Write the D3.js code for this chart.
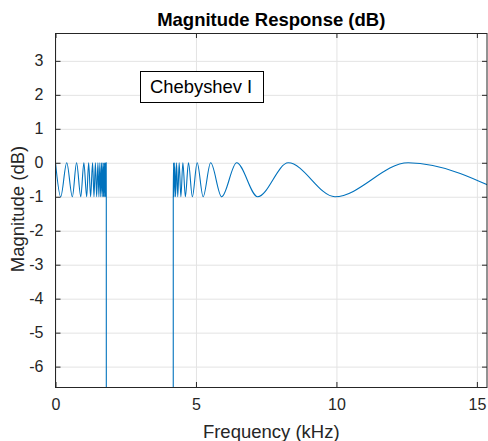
<!DOCTYPE html>
<html>
<head>
<meta charset="utf-8">
<script src="https://cdn.jsdelivr.net/npm/d3@7"></script>
<style>
  body { margin: 0; background: #fff; }
  svg { display: block; font-family: "Liberation Sans", Arial, Helvetica, sans-serif; }
</style>
</head>
<body>
<svg id="chart" width="488" height="441"></svg>
<script>
// tick values
var freqTicks = [0, 5, 10, 15];
var magTicks = [3, 2, 1, 0, -1, -2, -3, -4, -5, -6];

// ripple peaks / troughs (kHz, dB)
var lowerFreq = [0, 0.185, 0.40, 0.60, 0.75, 0.90, 1.01, 1.11, 1.18, 1.25, 1.32, 1.37, 1.42, 1.465, 1.51,
                 1.545, 1.58, 1.61, 1.64, 1.665, 1.69, 1.71, 1.73, 1.75, 1.765, 1.78, 1.79, 1.80, 1.805, 1.808, 1.812];
var lowerMag  = [0, -1, 0, -1, 0, -1, 0, -1, 0, -1, 0, -1, 0, -1, 0,
                 -1, 0, -1, 0, -1, 0, -1, 0, -1, 0, -1, 0, -1, 0, -1, -40];

var upperFreq = [4.188, 4.192, 4.203, 4.217, 4.242, 4.274, 4.310, 4.352, 4.402, 4.463, 4.534, 4.623,
                 4.733, 4.872, 5.043, 5.256, 5.523, 5.915, 6.448, 7.196, 8.285, 9.947, 12.555, 16.26];
var upperMag  = [-40, -1, 0, -1, 0, -1, 0, -1, 0, -1, 0, -1,
                 0, -1, 0, -1, 0, -1, 0, -1, 0, -1, 0, -1];

var svg = d3.select("#chart");
var plotL = 55.5, plotR = 487, plotT = 33, plotB = 387;

var x = d3.scaleLinear().domain([0, 15.36]).range([plotL, plotR]);
var y = d3.scaleLinear().domain([-6.6, 3.82]).range([plotB, plotT]);

// grid
svg.append("g")
    .attr("transform", "translate(0," + plotB + ")")
    .call(d3.axisBottom(x).tickValues(freqTicks).tickSize(-(plotB - plotT)).tickFormat(""))
    .call(function(g) { g.select(".domain").remove(); })
    .selectAll("line").attr("stroke", "#e3e3e3");
svg.append("g")
    .attr("transform", "translate(" + plotL + ",0)")
    .call(d3.axisLeft(y).tickValues(magTicks).tickSize(-(plotR - plotL)).tickFormat(""))
    .call(function(g) { g.select(".domain").remove(); })
    .selectAll("line").attr("stroke", "#e3e3e3");

// curve
svg.append("clipPath").attr("id", "plotclip")
  .append("rect")
    .attr("x", plotL).attr("y", plotT)
    .attr("width", plotR - plotL).attr("height", plotB - plotT);

var line = d3.line()
    .x(function(d) { return x(d[0]); })
    .y(function(d) { return y(d[1]); })
    .curve(d3.curveMonotoneX);

var plot = svg.append("g").attr("clip-path", "url(#plotclip)");
plot.append("path")
    .datum(d3.zip(lowerFreq, lowerMag))
    .attr("d", line)
    .attr("fill", "none").attr("stroke", "#0072bd").attr("stroke-width", 1.1);
plot.append("path")
    .datum(d3.zip(upperFreq, upperMag))
    .attr("d", line)
    .attr("fill", "none").attr("stroke", "#0072bd").attr("stroke-width", 1.1);

// axes, ticks inside on all four sides
var axisColor = "#262626";
function plainNum(d) { return String(d); } // keep ascii hyphen like the original
function styleAxis(g) {
  g.attr("font-size", null).attr("font-family", null);
  g.select(".domain").remove();
  g.selectAll("line").attr("stroke", axisColor);
  g.selectAll("text").attr("fill", axisColor).style("font-size", "16px");
}
svg.append("g")
    .attr("transform", "translate(0," + plotB + ")")
    .call(d3.axisBottom(x).tickValues(freqTicks).tickSizeInner(-5).tickSizeOuter(0).tickPadding(12).tickFormat(plainNum))
    .call(styleAxis);
svg.append("g")
    .attr("transform", "translate(0," + plotT + ")")
    .call(d3.axisTop(x).tickValues(freqTicks).tickSizeInner(-5).tickSizeOuter(0).tickFormat(""))
    .call(styleAxis);
svg.append("g")
    .attr("transform", "translate(" + plotL + ",0)")
    .call(d3.axisLeft(y).tickValues(magTicks).tickSizeInner(-5).tickSizeOuter(0).tickPadding(12).tickFormat(plainNum))
    .call(styleAxis);
svg.append("g")
    .attr("transform", "translate(" + plotR + ",0)")
    .call(d3.axisRight(y).tickValues(magTicks).tickSizeInner(-5).tickSizeOuter(0).tickFormat(""))
    .call(styleAxis);

svg.append("rect")
    .attr("x", plotL).attr("y", plotT + 0.5)
    .attr("width", plotR - plotL).attr("height", plotB - plotT)
    .attr("fill", "none").attr("stroke", axisColor).attr("stroke-width", 1);

// title and labels
svg.append("text")
    .attr("x", (plotL + plotR) / 2).attr("y", 26)
    .attr("text-anchor", "middle")
    .style("font-size", "18.5px").style("font-weight", "bold")
    .attr("fill", "#000")
    .text("Magnitude Response (dB)");
svg.append("text")
    .attr("x", (plotL + plotR) / 2).attr("y", 437.5)
    .attr("text-anchor", "middle")
    .style("font-size", "18.5px")
    .attr("fill", axisColor)
    .text("Frequency (kHz)");
svg.append("text")
    .attr("transform", "translate(24," + 209 + ") rotate(-90)")
    .attr("text-anchor", "middle")
    .style("font-size", "18.5px")
    .attr("fill", axisColor)
    .text("Magnitude (dB)");

// legend box
svg.append("rect")
    .attr("x", 140.5).attr("y", 71.5).attr("width", 123).attr("height", 31)
    .attr("fill", "#fff").attr("stroke", "#000").attr("stroke-width", 1);
svg.append("text")
    .attr("x", 150).attr("y", 93)
    .style("font-size", "18.4px")
    .attr("fill", "#000")
    .text("Chebyshev I");
</script>
</body>
</html>
